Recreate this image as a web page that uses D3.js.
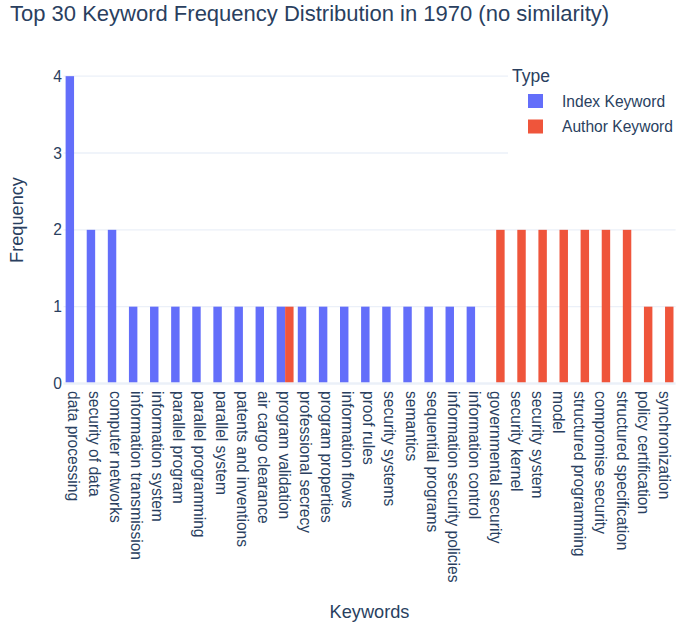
<!DOCTYPE html>
<html>
<head>
<meta charset="utf-8">
<script src="https://cdn.jsdelivr.net/npm/d3@7/dist/d3.min.js"></script>
<style>
  html, body { margin: 0; padding: 0; background: #fff; }
  svg { display: block; font-family: "Liberation Sans", Arial, sans-serif; }
</style>
</head>
<body>
<svg id="chart" width="685" height="627"></svg>
<script>
// ---- data ----
const categories = [
  "data processing", "security of data", "computer networks", "information transmission",
  "information system", "parallel program", "parallel programming", "parallel system",
  "patents and inventions", "air cargo clearance", "program validation", "professional secrecy",
  "program properties", "information flows", "proof rules", "security systems", "semantics",
  "sequential programs", "information security policies", "information control",
  "governmental security", "security kernel", "security system", "model",
  "structured programming", "compromise security", "structured specification",
  "policy certification", "synchronization"
];
const seriesNames = ["Index Keyword", "Author Keyword"];
const indexKeyword  = [4,2,2,1,1,1,1,1,1,1,1,1,1,1,1,1,1,1,1,1,0,0,0,0,0,0,0,0,0];
const authorKeyword = [0,0,0,0,0,0,0,0,0,0,1,0,0,0,0,0,0,0,0,0,2,2,2,2,2,2,2,1,1];
const yTicks = [0, 1, 2, 3, 4];
const colors = ["#636efa", "#EF553B"];
const titleText = "Top 30 Keyword Frequency Distribution in 1970 (no similarity)";

// ---- layout ----
const svg = d3.select("#chart");
const plot = { left: 63.5, right: 675.6, top: 60, bottom: 383.5 };
const textColor = "#2a3f5f";
const gridColor = "#EBF0F8";

const x0 = d3.scaleBand().domain(categories).range([plot.left, plot.right])
  .paddingInner(0.2).paddingOuter(0.1);
const x1 = d3.scaleBand().domain(seriesNames).range([0, x0.bandwidth()]);
const y = d3.scaleLinear().domain([0, 4.2105]).range([plot.bottom, plot.top]);

const table = categories.map((c, i) => ({
  cat: c,
  values: [
    { s: seriesNames[0], v: indexKeyword[i] },
    { s: seriesNames[1], v: authorKeyword[i] }
  ]
}));

// gridlines
const grid = svg.append("g");
grid.selectAll("line").data(yTicks.filter(t => t !== 0)).join("line")
  .attr("x1", plot.left).attr("x2", plot.right)
  .attr("y1", d => y(d)).attr("y2", d => y(d))
  .attr("stroke", gridColor).attr("stroke-width", 1.3);

// bars
const color = d3.scaleOrdinal().domain(seriesNames).range(colors);
svg.append("g").selectAll("g").data(table).join("g")
  .attr("transform", d => `translate(${x0(d.cat)},0)`)
  .selectAll("rect").data(d => d.values.filter(v => v.v > 0)).join("rect")
  .attr("x", d => x1(d.s))
  .attr("width", x1.bandwidth())
  .attr("y", d => y(d.v))
  .attr("height", d => y(0) - y(d.v))
  .attr("fill", d => color(d.s));

// zero line
svg.append("line")
  .attr("x1", plot.left).attr("x2", plot.right)
  .attr("y1", y(0)).attr("y2", y(0))
  .attr("stroke", gridColor).attr("stroke-width", 2.4);

// y axis
const yAxis = d3.axisLeft(y).tickValues(yTicks).tickSize(0).tickPadding(0).tickFormat(d3.format("d"));
const yg = svg.append("g").attr("transform", `translate(${plot.left - 1.5},0)`).call(yAxis);
yg.select(".domain").remove();
yg.selectAll("text").attr("fill", textColor).attr("font-size", "15.6px")
  .attr("font-family", "Liberation Sans, Arial, sans-serif");

// x axis
const cx = d => x0(d) + x0.bandwidth() / 2;
const xg = svg.append("g");
xg.selectAll("text").data(categories).join("text")
  .attr("transform", d => `translate(${cx(d)},391) rotate(90)`)
  .attr("dy", "0.4em")
  .attr("text-anchor", "start")
  .attr("fill", textColor).attr("font-size", "15.6px")
  .text(d => d);

// axis titles
svg.append("text")
  .attr("transform", "translate(23,220) rotate(-90)")
  .attr("text-anchor", "middle").attr("fill", textColor).attr("font-size", "18.2px")
  .text("Frequency");
svg.append("text")
  .attr("x", (plot.left + plot.right) / 2).attr("y", 618)
  .attr("text-anchor", "middle").attr("fill", textColor).attr("font-size", "18.2px")
  .text("Keywords");

// title
svg.append("text")
  .attr("x", 10).attr("y", 21)
  .attr("fill", textColor).attr("font-size", "22px")
  .text(titleText);

// legend
const lg = svg.append("g");
lg.append("rect").attr("x", 508).attr("y", 58).attr("width", 177).attr("height", 100)
  .attr("fill", "#fff");
lg.append("text").attr("x", 512).attr("y", 82).attr("fill", textColor)
  .attr("font-size", "17.5px").text("Type");
const items = lg.selectAll("g.item").data(seriesNames).join("g").attr("class", "item")
  .attr("transform", (d, i) => `translate(0,${101 + i * 25.5})`);
items.append("rect").attr("x", 528).attr("y", -7).attr("width", 15).attr("height", 14)
  .attr("fill", d => color(d));
items.append("text").attr("x", 562).attr("y", 0).attr("dy", "0.36em")
  .attr("fill", textColor).attr("font-size", "15.6px").text(d => d);
</script>
</body>
</html>
